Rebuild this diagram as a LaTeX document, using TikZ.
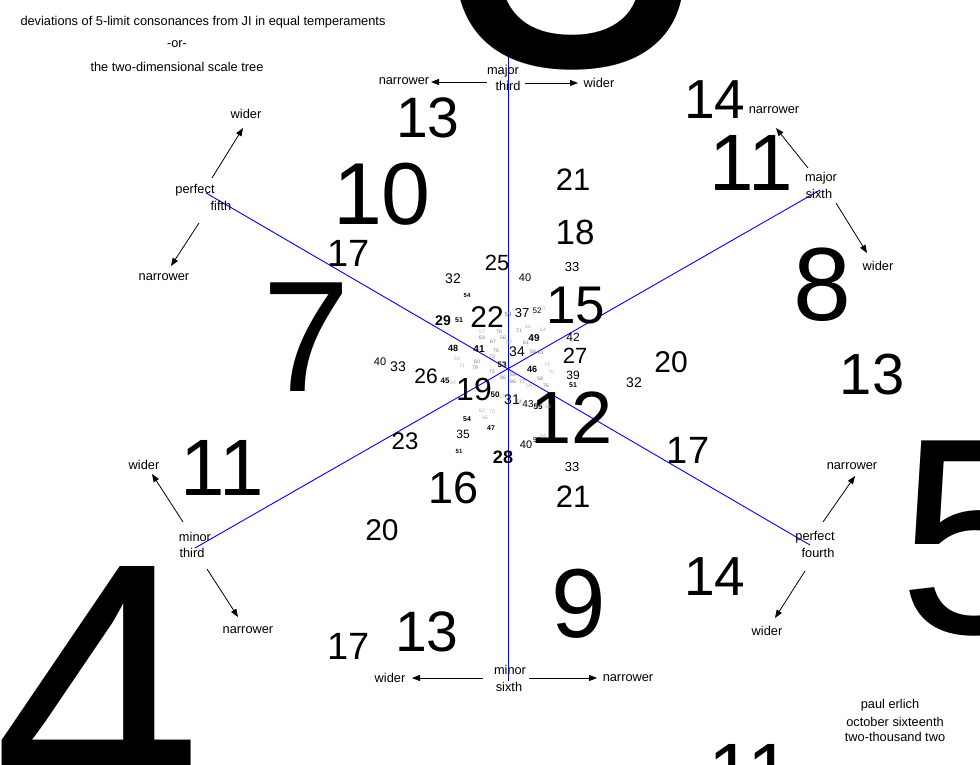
\documentclass[tikz,border=0pt]{standalone}
\usepackage{fontspec}
\setmainfont{Liberation Sans}
\usetikzlibrary{arrows.meta}
\begin{document}
\begin{tikzpicture}[x=1pt,y=-1pt,
  num/.style={inner sep=0pt, font=\fontsize{#1}{#1}\selectfont},
  numb/.style={inner sep=0pt, font=\fontsize{#1}{#1}\selectfont\bfseries},
  dim/.style={inner sep=0pt, text=black!55, font=\fontsize{#1}{#1}\selectfont},
  faint/.style={inner sep=0pt, text=black!30, font=\fontsize{#1}{#1}\selectfont},
  lbl/.style={inner sep=0pt, font=\fontsize{12.8}{14}\selectfont},
  axisline/.style={draw=blue, line width=0.9pt},
  arr/.style={-{Triangle[length=8pt,width=6pt]}, line width=0.8pt},
]
\useasboundingbox (0,0) rectangle (980,765);
\clip (0,0) rectangle (980,765);
\fill[white] (0,0) rectangle (980,765);

% axes
\coordinate (vt) at (508,45); \coordinate (vb) at (508,681);
\coordinate (p5) at (206,193); \coordinate (p4) at (810,545);
\coordinate (m3) at (195,548); \coordinate (M6) at (820,190);
\draw[axisline] (vt) -- (vb);
\draw[axisline] (p5) -- (p4);
\draw[axisline] (m3) -- (M6);

% huge numbers
\node[num=480, anchor=base] (n3) at (572,66) {3};
\node[num=375, anchor=base] (n4) at (98,824) {4};
\node[num=280, anchor=base] (n5) at (976,633) {5};
\node[num=158] (n7) at (306,337) {7};
\node[num=104] (n8) at (822,285) {8};
\node[num=98] (n9) at (579,604) {9};
\node[num=88] (n10) at (382,194) {10};
\node[num=80] (n11a) at (751,163) {11};
\node[num=80] (n11b) at (222,468) {11};
\node[num=80, anchor=base] (n11c) at (750,799) {11};
\node[num=74] (n12) at (572,418) {12};
\node[num=57] (n13a) at (428,118) {13};
\node[num=58] (n13b) at (872,375) {13};
\node[num=57] (n13c) at (427,632) {13};
\node[num=55] (n14a) at (715,100) {14};
\node[num=55] (n14b) at (715,577) {14};
\node[num=53] (n15) at (576,306) {15};
\node[num=45] (n16) at (454,488) {16};
\node[num=38] (n17a) at (349,253) {17};
\node[num=38] (n17b) at (688,450) {17};
\node[num=38] (n17c) at (349,646) {17};
\node[num=35] (n18) at (575,232) {18};
\node[num=32] (n19) at (474,389) {19};
\node[num=30] (n20a) at (671,362) {20};
\node[num=30] (n20b) at (382,530) {20};
\node[num=31] (n21a) at (573,180) {21};
\node[num=31] (n21b) at (573,497) {21};
\node[num=30] (n22) at (487,317) {22};
\node[num=24] (n23) at (405,441) {23};
\node[num=22] (n25) at (497,263) {25};
\node[num=21] (n26) at (426,376) {26};
\node[num=22] (n27) at (575,356) {27};
\node[numb=18] (n28) at (503,457) {28};
\node[numb=14] (n29) at (443,321) {29};
\node[num=14] (n31) at (512,400) {31};
\node[num=14] (n32a) at (453,279) {32};
\node[num=14] (n32b) at (634,383) {32};
\node[num=13] (n33a) at (572,267) {33};
\node[num=14] (n33b) at (398,367) {33};
\node[num=13] (n33c) at (572,467) {33};
\node[num=14] (n34) at (517,352) {34};
\node[num=12] (n35) at (463,434) {35};
\node[num=13] (n37) at (522,313) {37};
\node[num=12] (n39) at (573,375) {39};
\node[num=11] (n40a) at (525,278) {40};
\node[num=11] (n40b) at (380,362) {40};
\node[num=11] (n40c) at (526,445) {40};
\node[numb=10] (n41) at (479,349) {41};
\node[num=12] (n42) at (573,337) {42};
\node[num=10] (n43) at (528,404) {43};
\node[numb=8] (n45) at (445,381) {45};
\node[numb=9] (n46) at (532,369) {46};
\node[numb=7] (n47) at (491,428) {47};
\node[numb=9] (n48) at (453,348) {48};
\node[numb=10] (n49) at (534,338) {49};
\node[numb=8] (n50) at (495,395) {50};
\node[numb=7] (n51a) at (459,320) {51};
\node[numb=7] (n51b) at (573,385) {51};
\node[numb=6] (n51c) at (459,451) {51};
\node[num=8] (n52a) at (537,311) {52};
\node[num=7] (n52b) at (537,440) {52};
\node[numb=8] (n53) at (502,365) {53};
\node[numb=6] (n54a) at (467,295) {54};
\node[numb=7] (n54b) at (467,419) {54};
\node[numb=8] (n55) at (538,407) {55};
\node[dim=6] (n59) at (508,314) {59};

% tiny numbers near the centre
\node[faint=5] (g1) at (543,309) {57};
\node[faint=5] (g2) at (482,332) {57};
\node[dim=5] (g3) at (499,332) {78};
\node[dim=5] (g4) at (519,331) {71};
\node[faint=5] (g5) at (528,327) {66};
\node[faint=5] (g6) at (543,330) {64};
\node[dim=5] (g7) at (482,338) {63};
\node[dim=5] (g8) at (503,338) {56};
\node[dim=5] (g9) at (493,342) {67};
\node[faint=5] (g10) at (509,342) {69};
\node[dim=5] (g11) at (526,343) {61};
\node[dim=5] (g12) at (496,351) {75};
\node[dim=5] (g13) at (533,352) {58};
\node[dim=5] (g14) at (541,353) {61};
\node[faint=5] (g15) at (457,359) {69};
\node[dim=5] (g16) at (492,357) {73};
\node[dim=5] (g17) at (477,362) {60};
\node[faint=5] (g18) at (547,365) {73};
\node[faint=5] (g19) at (462,366) {71};
\node[dim=5] (g20) at (475,368) {79};
\node[dim=5] (g21) at (492,372) {72};
\node[dim=5] (g22) at (513,375) {65};
\node[dim=5] (g23) at (540,379) {58};
\node[faint=5] (g24) at (551,372) {70};
\node[faint=5] (g25) at (453,383) {64};
\node[dim=5] (g26) at (503,378) {86};
\node[dim=5] (g27) at (513,382) {86};
\node[dim=5] (g28) at (522,382) {77};
\node[faint=5] (g29) at (529,386) {59};
\node[dim=5] (g30) at (546,386) {76};
\node[faint=5] (g31) at (502,397) {67};
\node[dim=5] (g32) at (519,402) {74};
\node[faint=5] (g33) at (548,407) {62};
\node[faint=5] (g34) at (482,411) {62};
\node[faint=5] (g35) at (492,412) {70};
\node[faint=5] (g36) at (485,418) {66};
\node[faint=5] (g37) at (543,436) {64};

% titles
\node[lbl] (t1) at (203,22) {deviations of 5-limit consonances from JI in equal temperaments};
\node[lbl] (t2) at (177,44) {-or-};
\node[lbl] (t3) at (177,67) {the two-dimensional scale tree};

% major third (top)
\node[lbl] (MTa) at (503,71) {major};
\node[lbl] (MTb) at (508,86) {third};
\node[lbl] (MTn) at (404,81) {narrower};
\node[lbl] (MTw) at (599,83) {wider};
\coordinate (MTls) at (487,82); \coordinate (MTle) at (431,82);
\coordinate (MTrs) at (525,83); \coordinate (MTre) at (578,83);
\draw[arr] (MTls) -- (MTle);
\draw[arr] (MTrs) -- (MTre);

% minor sixth (bottom)
\node[lbl] (msa) at (510,670) {minor};
\node[lbl] (msb) at (509,687) {sixth};
\node[lbl] (msw) at (390,678) {wider};
\node[lbl] (msn) at (628,678) {narrower};
\coordinate (msls) at (483,678); \coordinate (msle) at (412,678);
\coordinate (msrs) at (529,678); \coordinate (msre) at (597,678);
\draw[arr] (msls) -- (msle);
\draw[arr] (msrs) -- (msre);

% perfect fifth (upper left)
\node[lbl] (pfa) at (195,190) {perfect};
\node[lbl] (pfb) at (221,206) {fifth};
\node[lbl] (pfw) at (246,114) {wider};
\node[lbl] (pfn) at (164,277) {narrower};
\coordinate (pfus) at (212,178); \coordinate (pfue) at (243,128);
\coordinate (pfds) at (199,223); \coordinate (pfde) at (171,266);
\draw[arr] (pfus) -- (pfue);
\draw[arr] (pfds) -- (pfde);

% major sixth (upper right)
\node[lbl] (Msa) at (821,178) {major};
\node[lbl] (Msb) at (819,194) {sixth};
\node[lbl] (Msn) at (774,110) {narrower};
\node[lbl] (Msw) at (878,266) {wider};
\coordinate (Msus) at (808,168); \coordinate (Msue) at (776,128);
\coordinate (Msds) at (836,203); \coordinate (Msde) at (867,253);
\draw[arr] (Msus) -- (Msue);
\draw[arr] (Msds) -- (Msde);

% minor third (lower left)
\node[lbl] (mta) at (195,537) {minor};
\node[lbl] (mtb) at (192,553) {third};
\node[lbl] (mtw) at (144,465) {wider};
\node[lbl] (mtn) at (248,630) {narrower};
\coordinate (mtus) at (183,522); \coordinate (mtue) at (152,474);
\coordinate (mtds) at (207,569); \coordinate (mtde) at (238,617);
\draw[arr] (mtus) -- (mtue);
\draw[arr] (mtds) -- (mtde);

% perfect fourth (lower right)
\node[lbl] (p4a) at (815,537) {perfect};
\node[lbl] (p4b) at (818,553) {fourth};
\node[lbl] (p4n) at (852,466) {narrower};
\node[lbl] (p4w) at (767,631) {wider};
\coordinate (p4us) at (823,522); \coordinate (p4ue) at (855,476);
\coordinate (p4ds) at (805,571); \coordinate (p4de) at (775,618);
\draw[arr] (p4us) -- (p4ue);
\draw[arr] (p4ds) -- (p4de);

% credits
\node[lbl] (c1) at (890,705) {paul erlich};
\node[lbl] (c2) at (895,722) {october sixteenth};
\node[lbl] (c3) at (895,737) {two-thousand two};
\end{tikzpicture}
\end{document}
